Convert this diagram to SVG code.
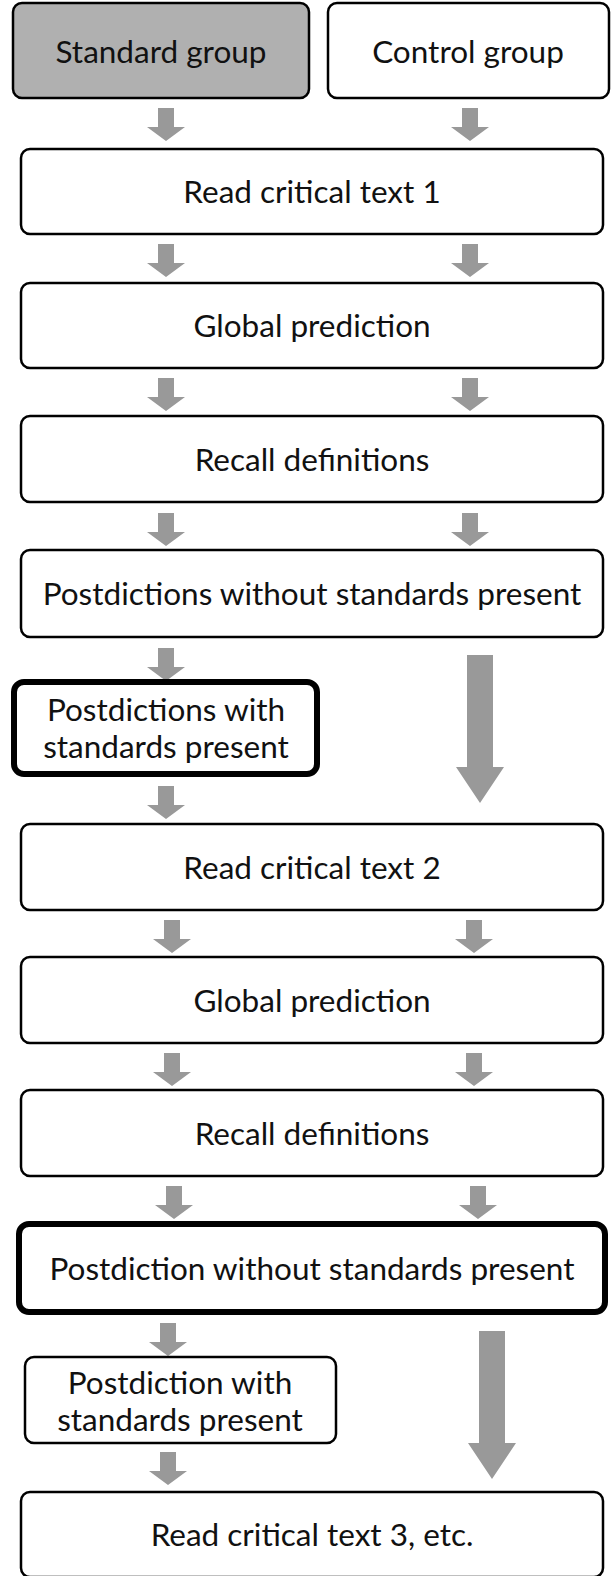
<svg xmlns="http://www.w3.org/2000/svg" width="612" height="1576" viewBox="0 0 612 1576">
<style>
.b{fill:#fff;stroke:#000;stroke-width:2.5}
.k{fill:#fff;stroke:#000;stroke-width:6}
.g{fill:#b0b0b0;stroke:#000;stroke-width:2.5}
.t{font-family:Lato,"Open Sans",sans-serif;font-size:31.5px;fill:#111;text-anchor:middle;dominant-baseline:central}
.a{fill:#999}
</style>
<defs>
<path id="sa" d="M-8,0 H8 V19 H19 L0,33 L-19,19 H-8 Z"/>
<path id="la" d="M-13,0 H13 V112 H24 L0,148 L-24,112 H-13 Z"/>
</defs>
<rect width="612" height="1576" fill="#fff"/>
<g id="connectors">
<use href="#sa" class="a" x="166" y="108"/><use href="#sa" class="a" x="470" y="108"/>
<use href="#sa" class="a" x="166" y="244"/><use href="#sa" class="a" x="470" y="244"/>
<use href="#sa" class="a" x="166" y="378"/><use href="#sa" class="a" x="470" y="378"/>
<use href="#sa" class="a" x="166" y="513"/><use href="#sa" class="a" x="470" y="513"/>
<use href="#sa" class="a" x="166" y="648"/><use href="#la" class="a" x="480" y="655"/>
<use href="#sa" class="a" x="166" y="786"/>
<use href="#sa" class="a" x="172" y="920"/><use href="#sa" class="a" x="474" y="920"/>
<use href="#sa" class="a" x="172" y="1053"/><use href="#sa" class="a" x="474" y="1053"/>
<use href="#sa" class="a" x="174" y="1186"/><use href="#sa" class="a" x="478" y="1186"/>
<use href="#sa" class="a" x="168" y="1323"/><use href="#la" class="a" x="492" y="1331"/>
<use href="#sa" class="a" x="168" y="1452"/>
</g>
<g id="n1"><rect class="g" x="13" y="3" width="296" height="95" rx="9"/><text class="t" x="161" y="51">Standard group</text></g>
<g id="n2"><rect class="b" x="328" y="3" width="281" height="95" rx="9"/><text class="t" x="468" y="51">Control group</text></g>
<g id="n3"><rect class="b" x="21" y="149" width="582" height="85" rx="9"/><text class="t" x="312" y="191">Read critical text 1</text></g>
<g id="n4"><rect class="b" x="21" y="283" width="582" height="85" rx="9"/><text class="t" x="312" y="325">Global prediction</text></g>
<g id="n5"><rect class="b" x="21" y="416" width="582" height="86" rx="9"/><text class="t" x="312" y="459">Recall definitions</text></g>
<g id="n6"><rect class="b" x="21" y="550" width="582" height="87" rx="9"/><text class="t" x="312" y="593">Postdictions without standards present</text></g>
<g id="n7"><rect class="k" x="14" y="682" width="303" height="92" rx="10"/><text class="t" x="166" y="709">Postdictions with</text><text class="t" x="166" y="746">standards present</text></g>
<g id="n8"><rect class="b" x="21" y="824" width="582" height="86" rx="9"/><text class="t" x="312" y="867">Read critical text 2</text></g>
<g id="n9"><rect class="b" x="21" y="957" width="582" height="86" rx="9"/><text class="t" x="312" y="1000">Global prediction</text></g>
<g id="n10"><rect class="b" x="21" y="1090" width="582" height="86" rx="9"/><text class="t" x="312" y="1133">Recall definitions</text></g>
<g id="n11"><rect class="k" x="19" y="1224" width="586" height="88" rx="10"/><text class="t" x="312" y="1268">Postdiction without standards present</text></g>
<g id="n12"><rect class="b" x="25" y="1357" width="311" height="86" rx="9"/><text class="t" x="180" y="1382">Postdiction with</text><text class="t" x="180" y="1419">standards present</text></g>
<g id="n13"><rect class="b" x="21" y="1492" width="582" height="85" rx="9"/><text class="t" x="312" y="1534">Read critical text 3, etc.</text></g>
</svg>
